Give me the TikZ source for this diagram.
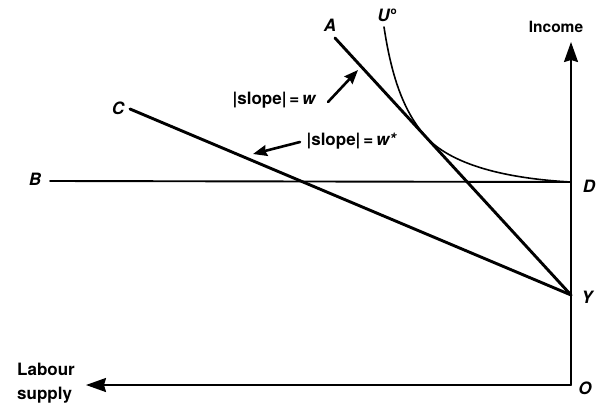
\documentclass[tikz,border=0pt]{standalone}
\usepackage{fontspec}
\setmainfont{TeX Gyre Heros}
\usetikzlibrary{arrows.meta}
\begin{document}
\begin{tikzpicture}[x=1pt, y=-1pt, font=\fontsize{17}{24}\selectfont\bfseries, line join=round, line cap=round, >={Stealth[length=20pt,width=14pt,inset=2pt]}]
	\tikzset{lbl/.style={font=\fontsize{17}{18}\selectfont\bfseries\itshape},
		ptr/.style={line width=2.6pt,-{Stealth[length=14pt,width=11pt,inset=1.5pt]}}}
	\useasboundingbox (0,0) rectangle (599,404);
	\coordinate (O) at (571,385);
	\coordinate (Y) at (571,295);
	\coordinate (D) at (571,182);
	\coordinate (top) at (571,42);
	\coordinate (left) at (86,385);
	\coordinate (a) at (335,38);
	\coordinate (c) at (130,109);
	\coordinate (b) at (50,181);
	\coordinate (u) at (384,27);
	\coordinate (T) at (427,138);
	% axes
	\draw[line width=1.9pt,->] (O)--(top);
	\draw[line width=1.9pt,->] (O)--(left);
	\node[font=\fontsize{15.5}{16}\selectfont\bfseries] (inc) at (556,27) {Income};
	\node[align=left, anchor=west, inner sep=0pt] (lab) at (17,383) {Labour\\supply};
	% budget lines
	\draw[line width=1.9pt] (b)--(D);
	\draw[line width=2.9pt] (a)--(Y);
	\draw[line width=2.9pt] (c)--(Y);
	% indifference curve
	\draw[line width=1.6pt] (u) .. controls (392,80) and (405,114) .. (T) .. controls (450,162) and (497,178) .. (D);
	% labels
	\node[lbl] (A) at (330,25) {A};
	\node[lbl] (U) at (387,15) {U\kern1pt\raisebox{7pt}{\fontsize{10}{10}\selectfont\upshape o}};
	\node[lbl] (C) at (118,108) {C};
	\node[lbl] (B) at (35,179) {B};
	\node[lbl] (Dl) at (589,186) {D};
	\node[lbl] (Yl) at (587,297) {Y};
	\node[lbl] (Ol) at (585,388) {O};
	% slopes
	\node[anchor=east] (sw) at (320,100) {|slope|\,=\,\textit{w}};
	\node[anchor=west] (sws) at (303,141) {|slope|\,=\,\textit{w*}};
	\coordinate (pw) at (358,70);
	\coordinate (pws) at (253,154);
	\draw[ptr] (sw.east)++(8,2) -- (pw);
	\draw[ptr] (sws.west)++(-3,1) -- (pws);
\end{tikzpicture}
\end{document}
